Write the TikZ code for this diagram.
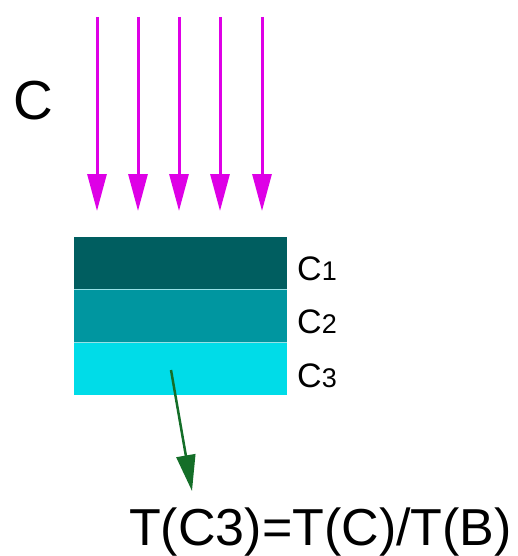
\documentclass[tikz,border=0pt]{standalone}
\usepackage{fontspec}
\setmainfont{Liberation Sans}
\usetikzlibrary{arrows.meta}
\definecolor{ray}{RGB}{222,0,230}
\definecolor{layA}{RGB}{0,94,96}
\definecolor{layB}{RGB}{0,150,160}
\definecolor{layC}{RGB}{0,220,232}
\definecolor{sep}{RGB}{150,225,230}
\definecolor{grn}{RGB}{20,110,40}
\tikzset{
  rayarrow/.style={draw=ray, line width=3pt, -{Triangle[length=37pt,width=19pt]}},
  lbl/.style={anchor=base west, inner sep=0pt, font=\fontsize{34}{34}\selectfont},
}
\newcommand{\smalldig}[1]{{\fontsize{27}{27}\selectfont #1}}
\begin{document}
\begin{tikzpicture}[x=1pt,y=-1pt]
\useasboundingbox (0,0) rectangle (517,556);
\node[anchor=base west, inner sep=0pt, font=\fontsize{55}{55}\selectfont] (cbig) at (13,120) {C};
\foreach \i/\x in {1/97,2/138,3/179,4/220,5/262}{
  \coordinate (s\i) at (\x,17);
  \coordinate (e\i) at (\x,211);
  \draw[rayarrow] (s\i) -- (e\i);
}
\fill[layA] (74,237) rectangle (287,289);
\fill[layB] (74,289) rectangle (287,342);
\fill[layC] (74,342) rectangle (287,395);
\draw[sep, line width=1pt] (74,289) -- (287,289);
\draw[sep, line width=1pt] (74,342) -- (287,342);
\node[lbl] (c1) at (297,280) {C\smalldig{1}};
\node[lbl] (c2) at (297,333) {C\smalldig{2}};
\node[lbl] (c3) at (297,387) {C\smalldig{3}};
\coordinate (gs) at (171,370);
\node[anchor=base west, inner sep=0pt, font=\fontsize{52}{52}\selectfont] (eq) at (129,545) {T(C3)=T(C)/T(B)};
\coordinate (gt) at (192,491);
\draw[grn, line width=2.5pt, -{Triangle[length=36pt,width=19pt]}] (gs) -- (gt);
\end{tikzpicture}
\end{document}
